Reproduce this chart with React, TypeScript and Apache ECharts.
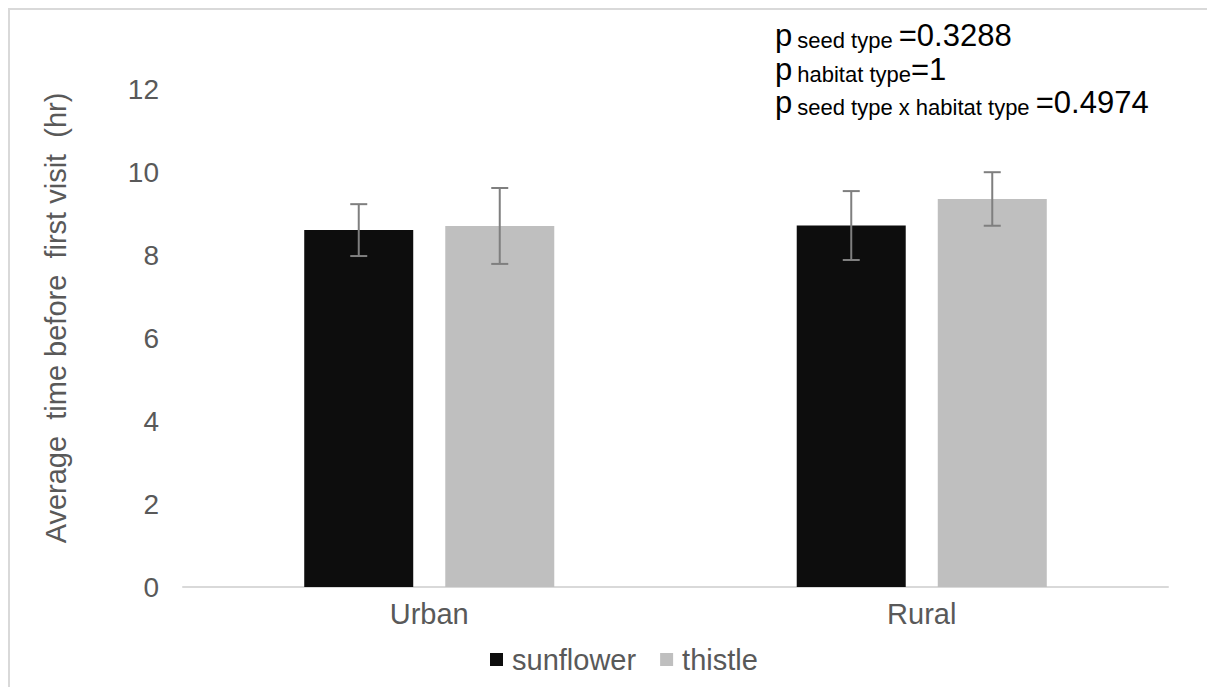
import React, { useEffect, useRef } from "react";
import * as echarts from "echarts";

const categories = ["Urban", "Rural"];
const seriesNames = ["sunflower", "thistle"];
const sunflowerValues = [8.6, 8.71];
const thistleValues = [8.7, 9.35];
const sunflowerErrors = [0.625, 0.83];
const thistleErrors = [0.915, 0.645];
const yTicks = { min: 0, max: 12, interval: 2 };
const yAxisTitle = "Average  time before  first visit  (hr)";
const pLines = [
  { sub: "seed type ", value: "=0.3288" },
  { sub: "habitat type", value: "=1" },
  { sub: "seed type x habitat type ", value: "=0.4974" },
];

const FONT = "'Liberation Sans', Arial, sans-serif";
const BAR_W = 109;
const BAR_GAP_PX = 32;

function errorSeries(name: string, values: number[], errs: number[], offset: number) {
  return {
    type: "custom",
    name: name + "-err",
    z: 10,
    silent: true,
    data: values.map((v, i) => [i, v, errs[i]]),
    renderItem: (params: any, api: any) => {
      const idx = api.value(0);
      const v = api.value(1);
      const e = api.value(2);
      const top = api.coord([idx, v + e]);
      const bot = api.coord([idx, v - e]);
      const x = top[0] + offset;
      const cap = 8.5;
      const style = { stroke: "#7f7f7f", lineWidth: 2 };
      return {
        type: "group",
        children: [
          { type: "line", shape: { x1: x, y1: top[1], x2: x, y2: bot[1] }, style },
          { type: "line", shape: { x1: x - cap, y1: top[1], x2: x + cap, y2: top[1] }, style },
          { type: "line", shape: { x1: x - cap, y1: bot[1], x2: x + cap, y2: bot[1] }, style },
        ],
      };
    },
  };
}

export default function App() {
  const ref = useRef<HTMLDivElement>(null);
  useEffect(() => {
    if (!ref.current) return;
    const chart = echarts.init(ref.current, null, { renderer: "svg" });
    const off = (BAR_W + BAR_GAP_PX) / 2;
    const pRich = {
      p: { fontSize: 31, fontFamily: FONT, color: "#111", verticalAlign: "bottom" },
      s: { fontSize: 22, fontFamily: FONT, color: "#111", verticalAlign: "bottom", padding: [0, 0, 0, 5] },
      v: { fontSize: 31, fontFamily: FONT, color: "#111", verticalAlign: "bottom" },
    };
    const baseY = [41, 75, 108];
    chart.setOption({
      animation: false,
      textStyle: { fontFamily: FONT },
      grid: { left: 173, right: 39, top: 79, bottom: 100, containLabel: false },
      legend: {
        data: seriesNames,
        bottom: 8,
        left: 475,
        itemWidth: 13,
        itemHeight: 13,
        itemGap: 24,
        icon: "rect",
        textStyle: { fontSize: 29, color: "#595959", fontFamily: FONT, padding: [0, 0, 0, 4] },
      },
      xAxis: {
        type: "category",
        data: categories,
        axisLine: { lineStyle: { color: "#d9d9d9", width: 2 } },
        axisTick: { show: false },
        axisLabel: { fontSize: 29, color: "#595959", margin: 12, fontFamily: FONT },
      },
      yAxis: {
        type: "value",
        min: yTicks.min,
        max: yTicks.max,
        interval: yTicks.interval,
        splitLine: { show: false },
        axisLine: { show: false },
        axisTick: { show: false },
        axisLabel: { fontSize: 28, color: "#595959", margin: 24, fontFamily: FONT },
      },
      graphic: [
        {
          type: "text",
          x: 46,
          y: 308,
          rotation: Math.PI / 2,
          style: {
            text: yAxisTitle,
            fontSize: 29,
            fontFamily: FONT,
            fill: "#595959",
            align: "center",
            verticalAlign: "middle",
          },
        },
        ...pLines.map((l, i) => ({
          type: "text",
          x: 765,
          y: baseY[i],
          style: {
            text: "{p|p}{s|" + l.sub + "}{v|" + l.value + "}",
            rich: pRich,
            align: "left",
            verticalAlign: "bottom",
          },
        })),
      ],
      series: [
        {
          name: seriesNames[0],
          type: "bar",
          data: sunflowerValues,
          barWidth: BAR_W,
          barGap: ((BAR_GAP_PX / BAR_W) * 100).toFixed(1) + "%",
          itemStyle: { color: "#0d0d0d" },
        },
        {
          name: seriesNames[1],
          type: "bar",
          data: thistleValues,
          barWidth: BAR_W,
          itemStyle: { color: "#bfbfbf" },
        },
        errorSeries(seriesNames[0], sunflowerValues, sunflowerErrors, -off),
        errorSeries(seriesNames[1], thistleValues, thistleErrors, off),
      ],
    });
    return () => chart.dispose();
  }, []);
  return (
    <div
      ref={ref}
      style={{
        width: 1199,
        height: 679,
        borderLeft: "2px solid #d9d9d9",
        borderTop: "2px solid #d9d9d9",
        boxSizing: "border-box",
      }}
    />
  );
}
